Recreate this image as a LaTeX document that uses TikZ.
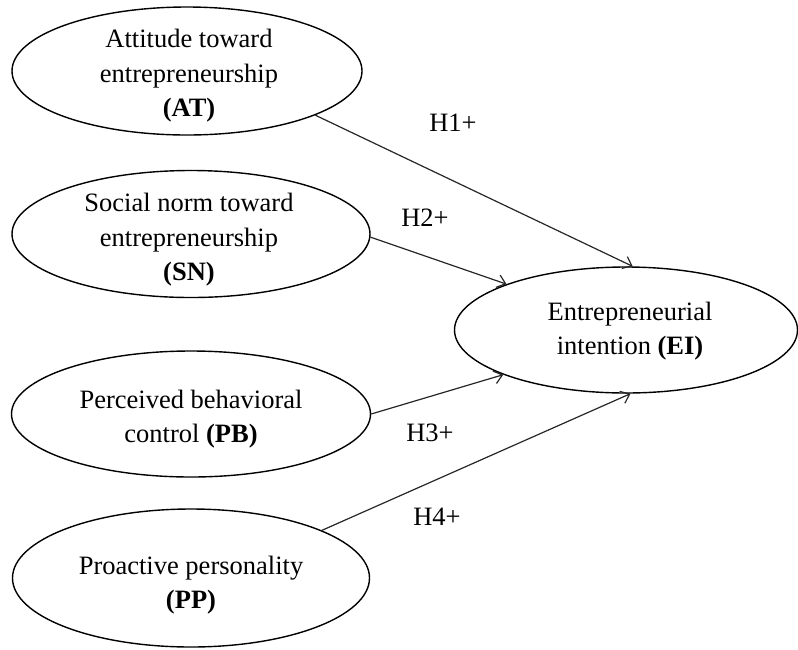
\documentclass[tikz,border=0pt]{standalone}
\usepackage{fontspec}
\setmainfont{Liberation Serif}
\usetikzlibrary{shapes.geometric,arrows.meta}
\begin{document}
\begin{tikzpicture}[x=1pt,y=-1pt,
  construct/.style={draw=black, line width=1.4pt, ellipse, inner sep=0pt},
  ctext/.style={align=center, inner sep=0pt, font=\fontsize{26.5}{34.5}\selectfont},
  hyp/.style={font=\fontsize{26.5}{34.5}\selectfont, inner sep=0pt},
  path/.style={draw=black!85, line width=1.2pt, -{Straight Barb[length=8pt,width=13pt,line width=1.2pt]}}]
\useasboundingbox (0,0) rectangle (798,649);
\node[construct, minimum width=350pt, minimum height=128pt] (AT) at (187,71) {};
\node[ctext] (ATt) at (189,76) {Attitude toward\\entrepreneurship\\\textbf{(AT)}};
\node[construct, minimum width=358pt, minimum height=127pt] (SN) at (191,234) {};
\node[ctext] (SNt) at (189,240) {Social norm toward\\entrepreneurship\\\textbf{(SN)}};
\node[construct, minimum width=359pt, minimum height=126pt] (PB) at (191,414) {};
\node[ctext] (PBt) at (191,419) {Perceived behavioral\\control \textbf{(PB)}};
\node[construct, minimum width=357pt, minimum height=138pt] (PP) at (191,578) {};
\node[ctext] (PPt) at (191,585) {Proactive personality\\\textbf{(PP)}};
\node[construct, minimum width=343pt, minimum height=126pt] (EI) at (626,330) {};
\node[ctext] (EIt) at (630,331) {Entrepreneurial\\intention \textbf{(EI)}};
\draw[path] (AT.-19.5) -- (EI.84.5);
\draw[path] (SN.-1) -- (EI.159.7);
\draw[path] (PB.east) -- (EI.200.4);
\draw[path] (PP.20.7) -- (EI.-86.4);
\node[hyp] (h1) at (453,123) {H1+};
\node[hyp] (h2) at (425,218) {H2+};
\node[hyp] (h3) at (430,433) {H3+};
\node[hyp] (h4) at (437,517) {H4+};
\end{tikzpicture}
\end{document}
